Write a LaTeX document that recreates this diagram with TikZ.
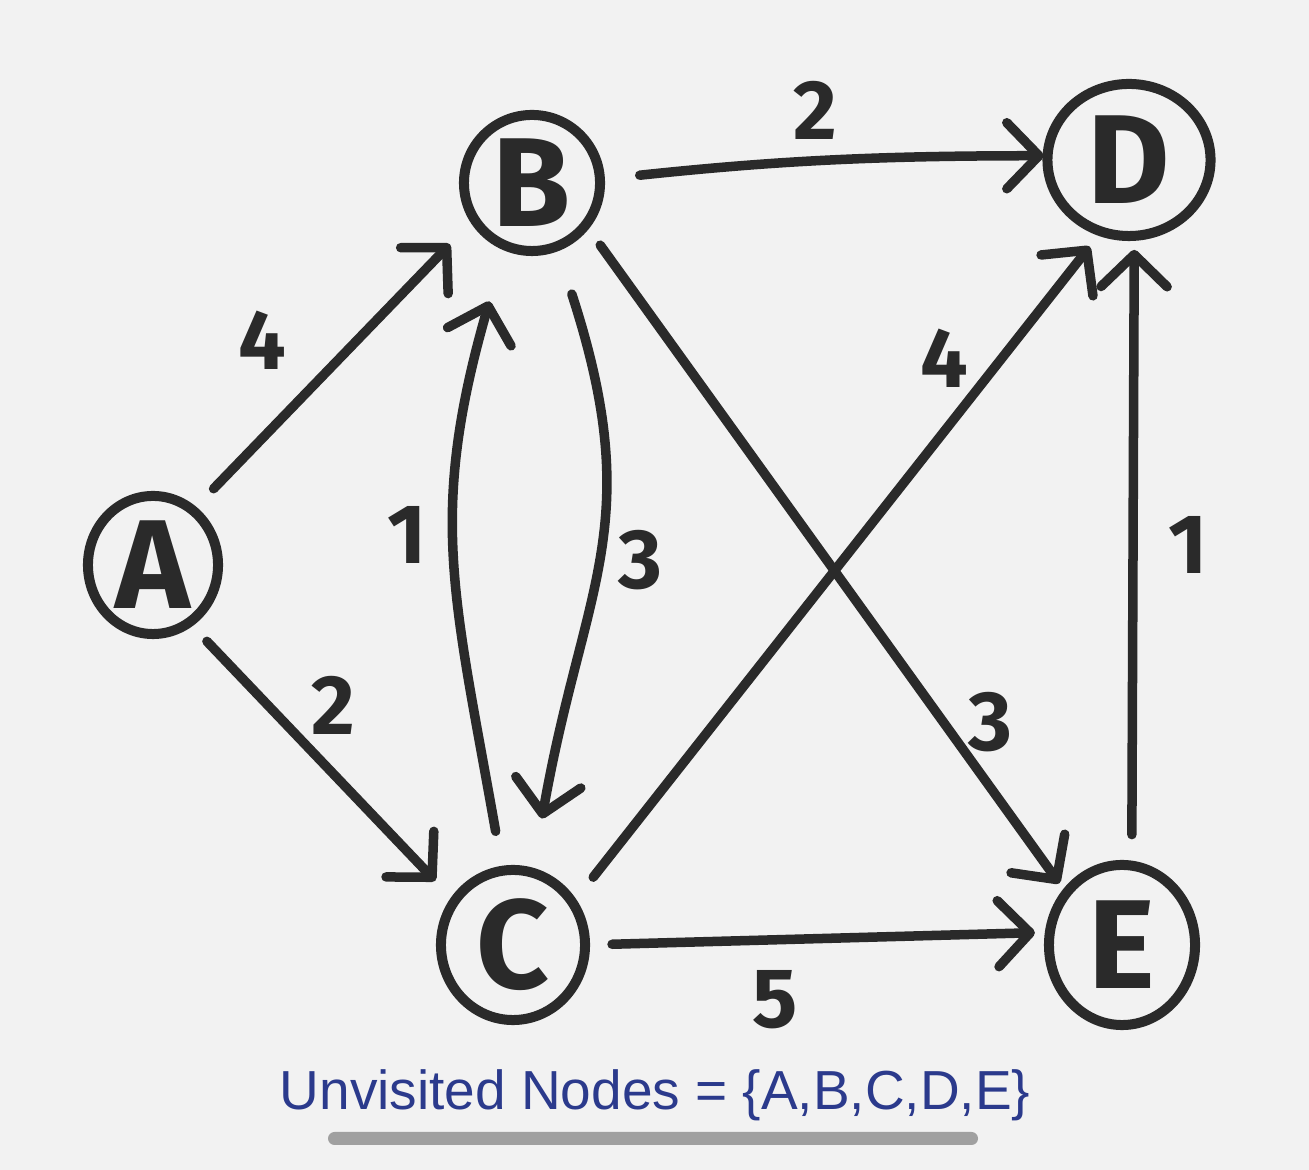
\documentclass[tikz,border=0pt]{standalone}
\usepackage{fontspec}
\setmainfont{Fira Sans}
\newfontfamily\penfont{Liberation Sans}
\usetikzlibrary{arrows.meta,shapes.geometric}
\definecolor{bg}{HTML}{F2F2F2}
\definecolor{ink}{HTML}{2A2A2A}
\definecolor{pen}{HTML}{2B3A8C}
\definecolor{barc}{HTML}{A0A0A0}
\begin{document}
\begin{tikzpicture}[x=0.01cm,y=0.01cm,
  vtx/.style={ellipse,draw=ink,line width=0.1cm,inner sep=0pt,outer sep=0pt,
    font=\fontsize{36}{36}\selectfont\bfseries,text=ink},
  edge/.style={draw=ink,line width=0.095cm,line cap=round,
    -{Straight Barb[length=0.32cm,width=0.66cm,round]}},
  wt/.style={font=\fontsize{24}{24}\selectfont\bfseries,text=ink}]
\fill[bg] (0,0) rectangle (1309,1170);
\useasboundingbox (0,0) rectangle (1309,1170);
% vertices
\node[vtx,minimum width=1.30cm,minimum height=1.38cm] (A) at (153,605) {A};
\node[vtx,minimum width=1.36cm,minimum height=1.36cm] (B) at (532,987) {B};
\node[vtx,minimum width=1.44cm,minimum height=1.50cm] (C) at (513,225) {C};
\node[vtx,minimum width=1.63cm,minimum height=1.52cm] (D) at (1129,1010) {D};
\node[vtx,minimum width=1.46cm,minimum height=1.60cm] (E) at (1122,225) {E};
% edges
\draw[edge,shorten <=0.30cm,shorten >=0.35cm] (A.54) -- (B.-148);
\draw[edge,shorten <=0.26cm,shorten >=0.28cm] (A.-58) -- (C.143);
\draw[edge,shorten <=0.40cm,shorten >=0.04cm] (B.3) to[bend left=3] (D.177);
\draw[edge,shorten <=0.50cm,shorten >=0.55cm] (B.-69) to[out=-72,in=80,looseness=1.2] (C.75);
\draw[edge,shorten <=0.40cm,shorten >=0.58cm] (C.98) to[out=100,in=-106,looseness=1.15] (B.-113);
\draw[edge,shorten <=0.25cm,shorten >=0.12cm] (B.-38) -- (E.137);
\draw[edge,shorten <=0.33cm,shorten >=0.19cm] (C.35) -- (D.-111);
\draw[edge,shorten <=0.27cm,shorten >=0.15cm] (C.0) -- (E.170);
\draw[edge,shorten <=0.31cm,shorten >=0.14cm] (E.83) -- (D.-86);
% weights
\node[wt] (wAB) at (262,830) {4};
\node[wt] (wAC) at (333,465) {2};
\node[wt] (wBD) at (815,1060) {2};
\node[wt] (wBC) at (640,610) {3};
\node[wt] (wCB) at (407,635) {1};
\node[wt] (wBE) at (990,448) {3};
\node[wt] (wCD) at (944,812) {4};
\node[wt] (wCE) at (775,170) {5};
\node[wt] (wED) at (1188,625) {1};
% caption
\node[text=pen,inner sep=0pt] (cap) at (655,75)
  {\resizebox{7.5cm}{!}{\penfont\fontsize{14}{14}\selectfont Unvisited Nodes = \{A,B,C,D,E\}}};
\fill[barc,rounded corners=0.065cm] (328,25) rectangle (978,38);
\end{tikzpicture}
\end{document}
